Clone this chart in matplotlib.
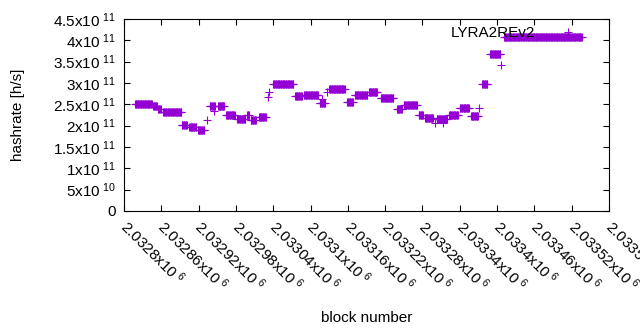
import numpy as np
import matplotlib
matplotlib.use('Agg')
import matplotlib.pyplot as plt
from matplotlib.ticker import FixedLocator, FuncFormatter
from matplotlib.transforms import ScaledTranslation

plt.rcParams['font.family'] = ['Liberation Sans', 'DejaVu Sans']
plt.rcParams['mathtext.fontset'] = 'custom'
plt.rcParams['mathtext.rm'] = 'Liberation Sans'

# runs of blocks with the same hashrate (first block, last block, hashrate)
seg_start = [2032818, 2032847, 2032855, 2032863, 2032893, 2032905, 2032919, 2032933,
             2032938, 2032945, 2032951, 2032964, 2032982, 2032998, 2033004, 2033017,
             2033032, 2033033, 2033040, 2033075, 2033089, 2033115, 2033119, 2033126,
             2033130, 2033159, 2033171, 2033194, 2033213, 2033239, 2033250, 2033274,
             2033284, 2033300, 2033303, 2033313, 2033323, 2033340, 2033358, 2033371,
             2033376, 2033389, 2033406, 2033411]
seg_end = [2032845, 2032853, 2032859, 2032892, 2032901, 2032916, 2032929, 2032933,
           2032946, 2032945, 2032961, 2032978, 2032995, 2033001, 2033012, 2033028,
           2033032, 2033033, 2033072, 2033086, 2033112, 2033123, 2033119, 2033126,
           2033155, 2033168, 2033191, 2033207, 2033233, 2033247, 2033271, 2033281,
           2033297, 2033300, 2033319, 2033313, 2033337, 2033355, 2033369, 2033371,
           2033384, 2033405, 2033406, 2033536]
seg_value = [2.50e11, 2.46e11, 2.39e11, 2.31e11, 2.01e11, 1.98e11, 1.90e11, 2.13e11,
             2.46e11, 2.35e11, 2.45e11, 2.25e11, 2.15e11, 2.25e11, 2.13e11, 2.21e11,
             2.68e11, 2.80e11, 2.97e11, 2.69e11, 2.71e11, 2.52e11, 2.62e11, 2.80e11,
             2.87e11, 2.55e11, 2.71e11, 2.78e11, 2.64e11, 2.39e11, 2.48e11, 2.25e11,
             2.17e11, 2.06e11, 2.16e11, 2.07e11, 2.25e11, 2.41e11, 2.23e11, 2.42e11,
             2.98e11, 3.67e11, 3.43e11, 4.07e11]

blocks = np.concatenate([np.arange(s, e + 1) for s, e in zip(seg_start, seg_end)])
hashrate = np.concatenate([np.full(e - s + 1, v) for s, e, v in zip(seg_start, seg_end, seg_value)])

xticks = [2032800 + 60 * i for i in range(14)]
yticks = [i * 5e10 for i in range(10)]


def sci(v, pos=None):
    if v == 0:
        return '0'
    exp = int(np.floor(np.log10(abs(v)) + 1e-9))
    mant = v / 10 ** exp
    m = ('%.6f' % mant).rstrip('0').rstrip('.')
    return r'$\mathregular{%sx10^{\ %d}}$' % (m, exp)


fig = plt.figure(figsize=(6.4, 3.3), dpi=100)
ax = fig.add_axes([124 / 640, 1 - 211 / 330, 485 / 640, 192 / 330])

ax.plot(blocks, hashrate, linestyle='none', marker='+', markersize=5.5,
        markeredgewidth=0.8, color='#9400d3', label='LYRA2REv2')

ax.set_xlim(2032800, 2033580)
ax.set_ylim(0, 4.5e11)
ax.xaxis.set_major_locator(FixedLocator(xticks))
ax.yaxis.set_major_locator(FixedLocator(yticks))
ax.xaxis.set_major_formatter(FuncFormatter(sci))
ax.yaxis.set_major_formatter(FuncFormatter(sci))
ax.tick_params(direction='in', length=4, width=0.8, top=True, right=True,
               labelsize=11, colors='black')
ax.tick_params(axis='y', pad=6)
ax.tick_params(axis='x', pad=4)
shift = ScaledTranslation(6 / 100, 0, fig.dpi_scale_trans)
for lab in ax.get_xticklabels():
    lab.set_rotation(-45)
    lab.set_ha('left')
    lab.set_va('top')
    lab.set_rotation_mode('anchor')
    lab.set_transform(lab.get_transform() + shift)
for sp in ax.spines.values():
    sp.set_linewidth(0.8)

ax.set_xlabel('block number', fontsize=11)
ax.set_ylabel('hashrate [h/s]', fontsize=11)
ax.xaxis.set_label_coords(0.5, -0.52)
ax.yaxis.set_label_coords(-0.205, 0.5)

ax.legend(loc='upper right', bbox_to_anchor=(0.962, 0.98), frameon=False, markerfirst=False,
          fontsize=11, handlelength=2.5, handletextpad=0.9, borderpad=0.2, borderaxespad=0)

fig.savefig('out.png', dpi=100)
